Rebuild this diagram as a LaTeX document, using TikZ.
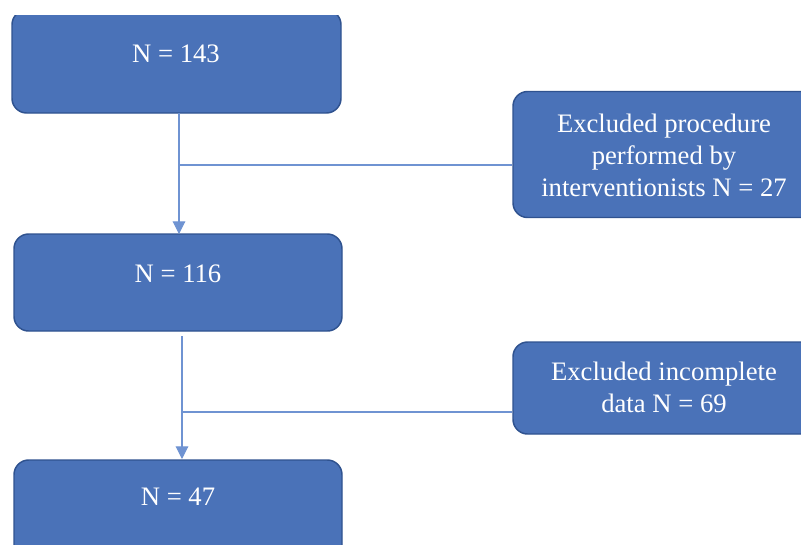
\documentclass[tikz,border=0pt]{standalone}
\usepackage{fontspec}
\setmainfont{Liberation Serif}
\usetikzlibrary{arrows.meta}
\definecolor{boxfill}{HTML}{4A72B8}
\definecolor{boxline}{HTML}{2F528F}
\definecolor{conn}{HTML}{6F93D2}
\begin{document}
\begin{tikzpicture}[x=0.75pt,y=-0.75pt,
  box/.style={draw=boxline,line width=1.1pt,fill=boxfill,rounded corners=11pt,inner sep=0pt},
  txt/.style={text=white,font=\fontsize{20}{24}\selectfont,align=center,inner sep=0pt},
  conn/.style={draw=conn,line width=0.8pt},
  arr/.style={conn,-{Triangle[width=9.5pt,length=9.5pt]}}]
\useasboundingbox (0,0) rectangle (801,544);
\clip (0,0) rectangle (801,544);
% boxes
\begin{scope}
\clip (0,15) rectangle (801,544);
\node[box,minimum width=329*0.75pt,minimum height=103*0.75pt] (b1) at (176.5,61.5) {};
\end{scope}
\node[box,minimum width=328*0.75pt,minimum height=97*0.75pt] (b2) at (178,282.5) {};
\node[box,minimum width=328*0.75pt,minimum height=110*0.75pt] (b3) at (178,515) {};
\node[box,minimum width=310*0.75pt,minimum height=126*0.75pt] (e1) at (668,154.5) {};
\node[box,minimum width=310*0.75pt,minimum height=92*0.75pt] (e2) at (668,388) {};
% texts
\node[txt] (t1) at (176,54) {N = 143};
\node[txt] (t2) at (178,274) {N = 116};
\node[txt] (t3) at (178,497) {N = 47};
\node[txt] (t4) at (664,155) {Excluded procedure\\performed by\\interventionists N = 27};
\node[txt] (t5) at (664,387) {Excluded incomplete\\data N = 69};
% connectors
\coordinate (s1) at (179,113);
\coordinate (j1) at (179,165);
\coordinate (a1) at (179,234);
\coordinate (s2) at (182,336);
\coordinate (j2) at (182,412);
\coordinate (a2) at (182,459);
\draw[arr] (s1) -- (a1);
\draw[conn] (j1) -- (j1 -| e1.west);
\draw[arr] (s2) -- (a2);
\draw[conn] (j2) -- (j2 -| e2.west);
\end{tikzpicture}
\end{document}
